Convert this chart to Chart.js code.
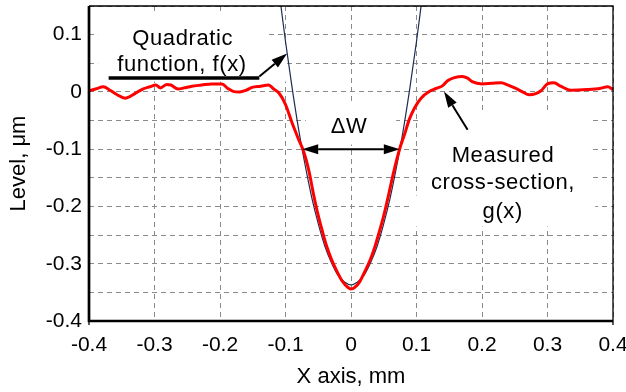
<!DOCTYPE html>
<html>
<head>
<meta charset="utf-8">
<script src="https://cdn.jsdelivr.net/npm/chart.js"></script>
<style>
  html, body { margin: 0; padding: 0; background: #fff; }
  #wrap { width: 626px; height: 392px; }
</style>
</head>
<body>
<div id="wrap"><canvas id="chart" width="626" height="392"></canvas></div>
<script>
// measured cross-section g(x)
const measuredX = [-0.4, -0.39, -0.378, -0.368, -0.357, -0.345, -0.33, -0.318, -0.307, -0.298, -0.291, -0.281, -0.275,
  -0.264, -0.255, -0.243, -0.228, -0.213, -0.197, -0.188, -0.18, -0.17, -0.16, -0.151, -0.138, -0.126, -0.118,
  -0.11, -0.1, -0.09, -0.08, -0.0723, -0.0646, -0.057, -0.05, -0.044, -0.037, -0.03, -0.022, -0.013, -0.005, 0,
  0.005, 0.013, 0.021, 0.029, 0.036, 0.043, 0.05, 0.057, 0.0637, 0.0739, 0.0815, 0.089, 0.097, 0.107, 0.12,
  0.13, 0.14, 0.148, 0.158, 0.17, 0.178, 0.185, 0.2, 0.215, 0.229, 0.24, 0.25, 0.262, 0.272, 0.282, 0.29,
  0.3, 0.31, 0.32, 0.336, 0.36, 0.38, 0.392, 0.4];
const measuredY = [0.002, 0.005, 0.009, 0.003, -0.005, -0.011, -0.003, 0.005, 0.009, 0.012, 0.007, 0.013, 0.012,
  0.005, 0.007, 0.010, 0.012, 0.014, 0.014, 0.006, 0.001, 0.000, 0.003, 0.008, 0.010, 0.012, 0.005,
  -0.002, -0.022, -0.054, -0.083, -0.104, -0.136, -0.180, -0.216, -0.242, -0.270, -0.292, -0.312, -0.331, -0.341, -0.344,
  -0.342, -0.332, -0.314, -0.294, -0.272, -0.245, -0.216, -0.182, -0.147, -0.101, -0.075, -0.048, -0.028, -0.011, 0.001,
  0.006, 0.011, 0.020, 0.025, 0.027, 0.024, 0.018, 0.014, 0.015, 0.016, 0.012, 0.007, 0.000, -0.005, -0.003, 0.002,
  0.014, 0.016, 0.010, 0.003, 0.004, 0.006, 0.009, 0.004];

// quadratic fit f(x)
const quadX = [-0.108, -0.1, -0.09, -0.08, -0.07, -0.06, -0.05, -0.04, -0.03, -0.02, -0.01, 0,
  0.01, 0.02, 0.03, 0.04, 0.05, 0.06, 0.07, 0.08, 0.09, 0.1, 0.108];
const quadY = [0.159, 0.088, 0.008, -0.065, -0.128, -0.184, -0.230, -0.269, -0.298, -0.320, -0.332, -0.337,
  -0.332, -0.320, -0.298, -0.269, -0.230, -0.184, -0.128, -0.065, 0.008, 0.088, 0.159];

const xTickValues = [-0.4, -0.3, -0.2, -0.1, 0, 0.1, 0.2, 0.3, 0.4];
const xTickLabels = ['-0.4', '-0.3', '-0.2', '-0.1', '0', '0.1', '0.2', '0.3', '0.4'];
const yTickValues = [0.1, 0, -0.1, -0.2, -0.3, -0.4];
const yTickLabels = ['0.1', '0', '-0.1', '-0.2', '-0.3', '-0.4'];

const FONT = '"Liberation Sans", Arial, Helvetica, sans-serif';

const pick = (vals, labels) => (v) => {
  const i = vals.findIndex(t => Math.abs(t - v) < 1e-6);
  return i < 0 ? '' : labels[i];
};

// annotation text, white boxes and arrows (in data units)
const annot = {
  id: 'annot',
  beforeDatasetsDraw(chart) {
    const { ctx, scales: { x, y } } = chart;
    const boxes = [
      [-0.386, 0.137, -0.128, 0.018],
      [-0.128, 0.083, -0.099, 0.018],
      [-0.069, -0.019, 0.069, -0.092],
      [0.107, -0.034, 0.366, -0.188],
      [0.089, -0.181, 0.373, -0.235]
    ];
    ctx.save();
    ctx.fillStyle = '#fff';
    boxes.forEach(b => {
      const x0 = x.getPixelForValue(b[0]), y0 = y.getPixelForValue(b[1]);
      const x1 = x.getPixelForValue(b[2]), y1 = y.getPixelForValue(b[3]);
      ctx.fillRect(x0, y0, x1 - x0, y1 - y0);
    });
    ctx.restore();
  },
  afterDraw(chart) {
    const { ctx, chartArea: a, scales: { x, y } } = chart;
    const P = (vx, vy) => [x.getPixelForValue(vx), y.getPixelForValue(vy)];

    ctx.save();
    // frame: thick left/bottom, thin top/right
    ctx.strokeStyle = '#000';
    ctx.lineWidth = 1.3;
    ctx.beginPath();
    ctx.moveTo(a.left, a.top); ctx.lineTo(a.right, a.top); ctx.lineTo(a.right, a.bottom + 4);
    ctx.stroke();
    ctx.lineWidth = 2.7;
    ctx.beginPath();
    ctx.moveTo(a.left, a.top); ctx.lineTo(a.left, a.bottom); ctx.lineTo(a.right, a.bottom);
    ctx.stroke();
    ctx.lineWidth = 1.3;
    ctx.beginPath();
    ctx.moveTo(a.left, a.bottom); ctx.lineTo(a.left, a.bottom + 4);
    ctx.stroke();

    const head = (tx, ty, fx, fy) => {
      const ang = Math.atan2(ty - fy, tx - fx), L = 16, W = 5;
      const bx = tx - L * Math.cos(ang), by = ty - L * Math.sin(ang);
      ctx.beginPath();
      ctx.moveTo(tx, ty);
      ctx.lineTo(bx + W * Math.sin(ang), by - W * Math.cos(ang));
      ctx.lineTo(bx - W * Math.sin(ang), by + W * Math.cos(ang));
      ctx.closePath();
      ctx.fill();
      return [bx, by];
    };
    const arrow = (from, to, both) => {
      ctx.lineWidth = 2;
      const [fx, fy] = from, [tx, ty] = to;
      let s = [fx, fy];
      const e = head(tx, ty, fx, fy);
      if (both) s = head(fx, fy, tx, ty);
      ctx.beginPath();
      ctx.moveTo(s[0], s[1]); ctx.lineTo(e[0], e[1]);
      ctx.stroke();
    };
    ctx.fillStyle = '#000';

    // Quadratic function label
    const u0 = P(-0.37, 0.0245), u1 = P(-0.14, 0.0245);
    ctx.lineWidth = 3.5;
    ctx.beginPath(); ctx.moveTo(u0[0], u0[1]); ctx.lineTo(u1[0], u1[1]); ctx.stroke();
    arrow(P(-0.14, 0.027), P(-0.0975, 0.067));

    // delta W
    arrow(P(-0.0745, -0.1), P(0.0745, -0.1), true);

    // measured label arrow
    arrow(P(0.178, -0.066), P(0.142, 0.0005));

    ctx.font = '22px ' + FONT;
    ctx.textAlign = 'center';
    ctx.textBaseline = 'alphabetic';
    if ('letterSpacing' in ctx) ctx.letterSpacing = '0.6px';
    const txt = (s, vx, vy) => { const p = P(vx, vy); ctx.fillText(s, p[0], p[1]); };
    txt('Quadratic', -0.257, 0.082);
    txt('function, f(x)', -0.258, 0.037);
    txt('\u0394W', -0.003, -0.0716);
    txt('Measured', 0.232, -0.123);
    txt('cross-section,', 0.232, -0.170);
    txt('g(x)', 0.2316, -0.220);
    ctx.restore();
  }
};

new Chart(document.getElementById('chart'), {
  type: 'line',
  data: {
    datasets: [
      {
        label: 'Measured cross-section, g(x)',
        data: measuredX.map((v, i) => ({ x: v, y: measuredY[i] })),
        borderColor: '#ff0000',
        borderWidth: 3,
        pointRadius: 0,
        cubicInterpolationMode: 'monotone',
        order: 1
      },
      {
        label: 'Quadratic function, f(x)',
        data: quadX.map((v, i) => ({ x: v, y: quadY[i] })),
        borderColor: '#1f2d52',
        borderWidth: 1.2,
        pointRadius: 0,
        cubicInterpolationMode: 'monotone',
        order: 2
      }
    ]
  },
  options: {
    responsive: false,
    animation: false,
    devicePixelRatio: 1,
    layout: { padding: { left: 0, right: 13, top: 6, bottom: 0 } },
    plugins: { legend: { display: false }, tooltip: { enabled: false } },
    scales: {
      x: {
        type: 'linear',
        min: -0.4, max: 0.4,
        afterFit: (s) => { s.height = 71; s.paddingLeft = 0; s.paddingRight = 0; },
        ticks: {
          stepSize: 0.1, padding: 12, color: '#000', maxRotation: 0, autoSkip: false,
          font: { family: FONT, size: 21 },
          callback: pick(xTickValues, xTickLabels)
        },
        grid: { color: '#8a8a8a', lineWidth: 1, drawTicks: false },
        border: { display: false, dash: [5, 4] },
        title: {
          display: true, text: 'X axis, mm', color: '#000',
          font: { family: FONT, size: 22 },
          padding: { top: 0, bottom: 2 }
        }
      },
      y: {
        min: -0.4, max: 0.15,
        afterFit: (s) => { s.width = 89; s.paddingTop = 0; s.paddingBottom = 0; },
        ticks: {
          stepSize: 0.05, padding: 7, color: '#000', autoSkip: false,
          font: { family: FONT, size: 21 },
          callback: pick(yTickValues, yTickLabels)
        },
        grid: { color: '#8a8a8a', lineWidth: 1, drawTicks: false },
        border: { display: false, dash: [5, 4] },
        title: {
          display: true, text: 'Level, \u03bcm', color: '#000',
          font: { family: FONT, size: 22 },
          padding: { top: 6, bottom: 0 }
        }
      }
    }
  },
  plugins: [annot]
});
</script>
</body>
</html>
